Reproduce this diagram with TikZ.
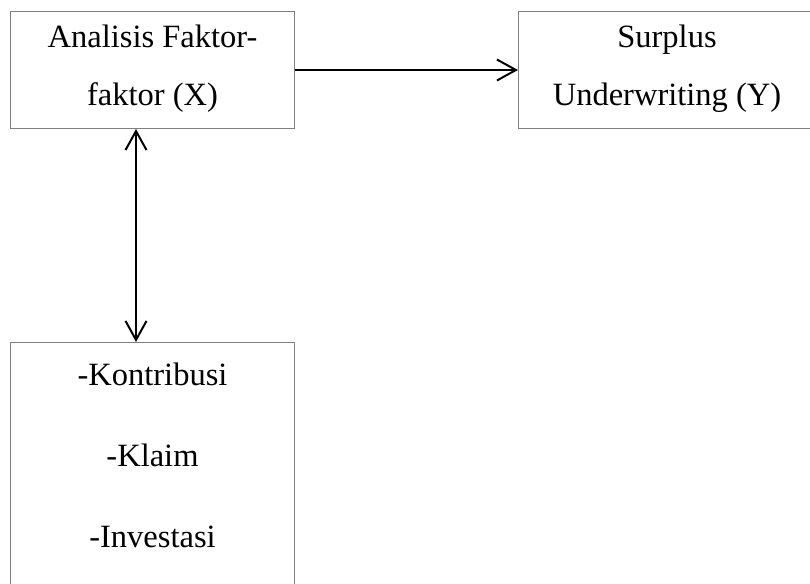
\documentclass[tikz,border=0pt]{standalone}
\usepackage{fontspec}
\setmainfont{Liberation Serif}
\usetikzlibrary{arrows.meta, positioning}
\definecolor{boxgray}{HTML}{7F7F7F}

\begin{document}
\begin{tikzpicture}[
  font=\fontsize{32.5pt}{58pt}\selectfont,
  box/.style  = {draw=boxgray, line width=1pt, minimum width=284pt,
                 minimum height=117pt, align=center, inner sep=0pt,
                 text height=94pt, text depth=23pt},
  flow/.style = {{Straight Barb[length=19pt, width=21pt]}-{Straight Barb[length=19pt, width=21pt]},
                 line width=2pt},
  tip/.style  = {-{Straight Barb[length=19pt, width=21pt]}, line width=2pt},
]

% ---- page frame
\fill[white] (0pt,0pt) rectangle (810pt,-583pt);
\clip (0pt,0pt) rectangle (810pt,-583pt);

% ---- the boxes
\node[box, anchor=north west] (analisis) at (10pt,-11pt) {Analisis Faktor-\\faktor (X)};
\node[box, right=223pt of analisis, minimum width=297pt] (surplus)
     {Surplus\\Underwriting (Y)};
\node[box, below=213pt of analisis.south, anchor=north, font=\fontsize{32.5pt}{81pt}\selectfont,
      text height=205pt, text depth=60pt] (komponen)
     {-Kontribusi\\-Klaim\\-Investasi};

% ---- the links
\draw[tip] (analisis) -- (surplus);
\draw[flow] (analisis.south -| 136pt,0) -- (komponen.north -| 136pt,0);

\end{tikzpicture}
\end{document}
